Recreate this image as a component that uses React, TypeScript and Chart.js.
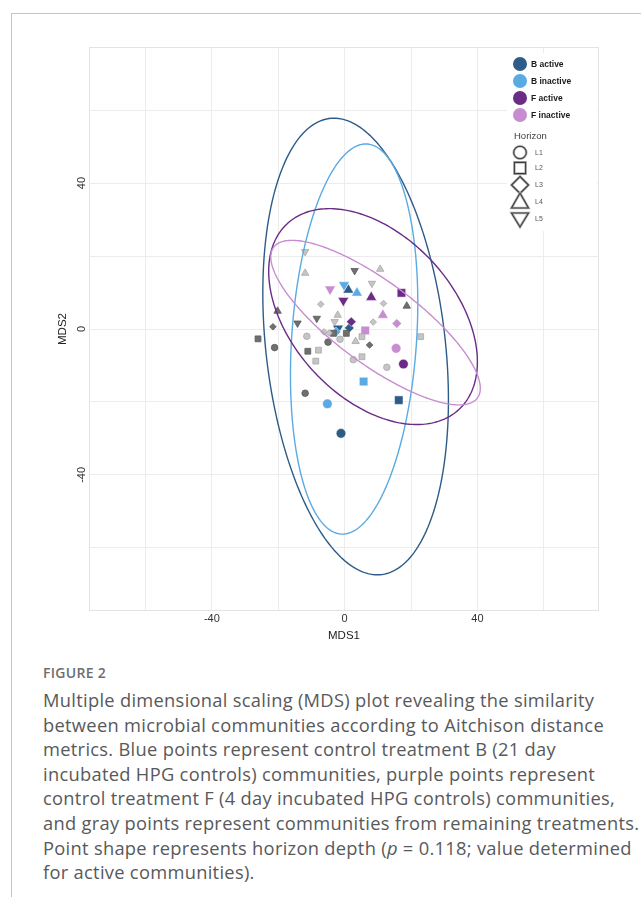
import React, { useEffect, useRef } from "react";
import { Chart, registerables } from "chart.js";
Chart.register(...registerables);

// ---------- data ----------
const groupNames = ["B active", "B inactive", "F active", "F inactive"];
const groupColors = ["#2d5c88", "#5aaae4", "#6b2b87", "#c78dd0"];
const horizonLabels = ["L1", "L2", "L3", "L4", "L5"];
const xTickValues = [-40, 0, 40];
const yTickValues = [-40, 0, 40];
const gridValues = [-60, -40, -20, 0, 20, 40, 60];

const bActiveX = [1.1, -2.0, 1.4, 16.3, -1.1];
const bActiveY = [10.7, 0.2, 0.3, -19.5, -28.6];
const bActiveH = ["L4", "L5", "L3", "L2", "L1"];

const bInactiveX = [-0.2, 3.7, -5.2, 5.7, -2.6];
const bInactiveY = [12.1, 9.9, -20.5, -14.4, -0.8];
const bInactiveH = ["L5", "L4", "L1", "L2", "L3"];

const fActiveX = [-0.4, 8.0, 17.1, 2.0, 17.7];
const fActiveY = [7.8, 8.7, 9.9, 2.0, -9.6];
const fActiveH = ["L5", "L4", "L2", "L3", "L1"];

const fInactiveX = [-4.4, 11.5, 15.7, 6.2, 15.5];
const fInactiveY = [10.9, 3.8, 1.5, -0.4, -5.3];
const fInactiveH = ["L5", "L4", "L3", "L2", "L1"];

const otherActiveX = [3.0, 18.7, -20.2, -8.4, -14.2, -21.6, 7.5, -26.1, -11.1, -3.4, 0.5, -5.0, -21.1, -11.9];
const otherActiveY = [16.0, 6.3, 4.9, 2.9, 1.6, 0.6, -4.4, -2.7, -6.1, -1.2, -1.2, -3.6, -5.1, -17.6];
const otherActiveH = ["L5", "L4", "L4", "L5", "L5", "L3", "L3", "L2", "L2", "L2", "L2", "L1", "L1", "L1"];

const otherInactiveX = [-11.9, -11.9, 10.7, 8.2, -7.2, 11.7, -2.1, -3.0, 8.6, -6.2, -4.7, -11.4, -1.4, 3.3, 5.2, 22.9, -7.9, -8.7, 2.6, 5.2, 12.7];
const otherInactiveY = [21.2, 15.3, 16.4, 12.5, 6.8, 7.0, 3.8, 2.0, 1.9, -0.8, -1.1, -2.0, -2.8, -3.4, -2.1, -2.1, -5.8, -8.8, -8.4, -7.6, -10.5];
const otherInactiveH = ["L5", "L4", "L4", "L5", "L3", "L3", "L4", "L5", "L3", "L3", "L3", "L1", "L1", "L4", "L2", "L2", "L2", "L2", "L1", "L2", "L1"];

// confidence ellipses (data units): centre x, centre y, semi-axes, angle (deg)
const ellipseCx = [3.3, 2.85, 8.55, 9.3];
const ellipseCy = [-4.8, -2.75, 3.4, 1.75];
const ellipseA = [63, 53.6, 36.4, 37.0];
const ellipseB = [27, 18.8, 23.2, 11.6];
const ellipseAngle = [97.3, 85.7, -40.9, -33.4];

const captionLines = [
  "Multiple dimensional scaling (MDS) plot revealing the similarity",
  "between microbial communities according to Aitchison distance",
  "metrics. Blue points represent control treatment B (21 day",
  "incubated HPG controls) communities, purple points represent",
  "control treatment F (4 day incubated HPG controls) communities,",
  "and gray points represent communities from remaining treatments.",
];

// ---------- helpers ----------
const styleOf = (h: string) =>
  h === "L1" ? "circle" : h === "L2" ? "rect" : h === "L3" ? "rectRot" : "triangle";
const factorOf = (h: string) =>
  h === "L1" ? 1 : h === "L2" ? 1.25 : h === "L3" ? 1.0 : 1.3;

function pts(xs: number[], ys: number[], hs: string[]) {
  return xs.map((x, i) => ({ x, y: ys[i], h: hs[i] }));
}

function makeDataset(label: string, data: any[], fill: string, border: string, base: number) {
  return {
    label,
    data,
    showLine: false,
    pointBackgroundColor: fill,
    pointBorderColor: border,
    pointBorderWidth: 0.8,
    pointStyle: (c: any) => styleOf(c.raw ? c.raw.h : "L1"),
    pointRotation: (c: any) => (c.raw && c.raw.h === "L5" ? 180 : 0),
    pointRadius: (c: any) => base * factorOf(c.raw ? c.raw.h : "L1"),
    pointHoverRadius: (c: any) => base * factorOf(c.raw ? c.raw.h : "L1"),
  };
}

const FONT = "'Liberation Sans', Arial, sans-serif";

function drawShape(ctx: CanvasRenderingContext2D, h: string, x: number, y: number) {
  ctx.beginPath();
  if (h === "L1") {
    ctx.arc(x, y, 6.3, 0, Math.PI * 2);
  } else if (h === "L2") {
    ctx.rect(x - 5.6, y - 5.6, 11.2, 11.2);
  } else if (h === "L3") {
    ctx.moveTo(x, y - 8.5);
    ctx.lineTo(x + 8.5, y);
    ctx.lineTo(x, y + 8.5);
    ctx.lineTo(x - 8.5, y);
    ctx.closePath();
  } else if (h === "L4") {
    ctx.moveTo(x, y - 9);
    ctx.lineTo(x + 8.5, y + 6);
    ctx.lineTo(x - 8.5, y + 6);
    ctx.closePath();
  } else {
    ctx.moveTo(x, y + 8);
    ctx.lineTo(x + 8.5, y - 6);
    ctx.lineTo(x - 8.5, y - 6);
    ctx.closePath();
  }
  ctx.strokeStyle = "#b5b5b5";
  ctx.lineWidth = 2.6;
  ctx.stroke();
  ctx.strokeStyle = "#3c3c3c";
  ctx.lineWidth = 1.1;
  ctx.stroke();
}

const overlayPlugin = {
  id: "overlay",
  beforeDatasetsDraw(chart: any) {
    const ctx = chart.ctx as CanvasRenderingContext2D;
    ctx.save();
    ctx.fillStyle = "#ffffff";
    ctx.fillRect(507, 53, 90, 178);
    ctx.restore();
  },
  afterDatasetsDraw(chart: any) {
    const ctx = chart.ctx as CanvasRenderingContext2D;
    const xs = chart.scales.x;
    const ys = chart.scales.y;
    ctx.save();
    ctx.beginPath();
    ctx.rect(chart.chartArea.left, chart.chartArea.top, chart.chartArea.right - chart.chartArea.left, chart.chartArea.bottom - chart.chartArea.top);
    ctx.clip();
    for (let k = 0; k < ellipseCx.length; k++) {
      const th = (ellipseAngle[k] * Math.PI) / 180;
      ctx.beginPath();
      for (let i = 0; i <= 240; i++) {
        const t = (i / 240) * Math.PI * 2;
        const dx = ellipseA[k] * Math.cos(t);
        const dy = ellipseB[k] * Math.sin(t);
        const vx = ellipseCx[k] + dx * Math.cos(th) - dy * Math.sin(th);
        const vy = ellipseCy[k] + dx * Math.sin(th) + dy * Math.cos(th);
        const px = xs.getPixelForValue(vx);
        const py = ys.getPixelForValue(vy);
        if (i === 0) ctx.moveTo(px, py);
        else ctx.lineTo(px, py);
      }
      ctx.closePath();
      ctx.strokeStyle = groupColors[k];
      ctx.lineWidth = 1.4;
      ctx.stroke();
    }
    ctx.restore();
  },
  afterDraw(chart: any) {
    const ctx = chart.ctx as CanvasRenderingContext2D;
    const ca = chart.chartArea;
    const xs = chart.scales.x;
    const ys = chart.scales.y;
    ctx.save();
    // panel border
    ctx.strokeStyle = "#e3e3e3";
    ctx.lineWidth = 1;
    ctx.strokeRect(Math.round(ca.left) + 0.5, Math.round(ca.top) + 0.5, Math.round(ca.right - ca.left) - 1, Math.round(ca.bottom - ca.top) - 1);

    // tick labels
    ctx.fillStyle = "#333333";
    ctx.font = `11px ${FONT}`;
    ctx.textAlign = "center";
    ctx.textBaseline = "middle";
    xTickValues.forEach((v) => ctx.fillText(String(v), xs.getPixelForValue(v), ca.bottom + 8));
    yTickValues.forEach((v) => {
      ctx.save();
      ctx.translate(ca.left - 7, ys.getPixelForValue(v));
      ctx.rotate(-Math.PI / 2);
      ctx.fillText(String(v), 0, 0);
      ctx.restore();
    });
    // axis titles
    ctx.fillStyle = "#222222";
    ctx.font = `11.5px ${FONT}`;
    ctx.fillText("MDS1", (ca.left + ca.right) / 2, ca.bottom + 25);
    ctx.save();
    ctx.translate(ca.left - 26, (ca.top + ca.bottom) / 2);
    ctx.rotate(-Math.PI / 2);
    ctx.fillText("MDS2", 0, 0);
    ctx.restore();

    // legend
    const lx = 520;
    ctx.textAlign = "left";
    groupNames.forEach((name, i) => {
      const y = 64 + i * 17;
      ctx.beginPath();
      ctx.arc(lx, y, 7, 0, Math.PI * 2);
      ctx.fillStyle = groupColors[i];
      ctx.fill();
      ctx.fillStyle = "#1a1a1a";
      ctx.font = `bold 8.5px ${FONT}`;
      ctx.fillText(name, 531, y + 0.5);
    });
    ctx.fillStyle = "#404040";
    ctx.font = `9.5px ${FONT}`;
    ctx.fillText("Horizon", 514, 136.5);
    const hy = [152.5, 168, 185, 202, 219];
    horizonLabels.forEach((h, i) => {
      drawShape(ctx, h, 520, hy[i]);
      ctx.fillStyle = "#555555";
      ctx.font = `7px ${FONT}`;
      ctx.fillText(h, 535, hy[i] + 0.5);
    });
    ctx.restore();
  },
};

export default function App() {
  const ref = useRef<HTMLCanvasElement | null>(null);

  useEffect(() => {
    if (!ref.current) return;
    const gridOpts = { color: "#ececec", lineWidth: 1, drawTicks: false };
    const chart = new Chart(ref.current, {
      type: "scatter",
      data: {
        datasets: [
          makeDataset("other inactive", pts(otherInactiveX, otherInactiveY, otherInactiveH), "#c5c5c5", "#a8a8a8", 3.3),
          makeDataset("other active", pts(otherActiveX, otherActiveY, otherActiveH), "#6f6f6f", "#5a5a5a", 3.3),
          makeDataset("F inactive", pts(fInactiveX, fInactiveY, fInactiveH), groupColors[3], "rgba(255,255,255,0.6)", 4.8),
          makeDataset("F active", pts(fActiveX, fActiveY, fActiveH), groupColors[2], "rgba(255,255,255,0.6)", 4.8),
          makeDataset("B inactive", pts(bInactiveX, bInactiveY, bInactiveH), groupColors[1], "rgba(255,255,255,0.6)", 4.8),
          makeDataset("B active", pts(bActiveX, bActiveY, bActiveH), groupColors[0], "rgba(255,255,255,0.6)", 4.8),
        ] as any,
      },
      options: {
        animation: false,
        responsive: false,
        maintainAspectRatio: false,
        devicePixelRatio: 1,
        layout: { padding: { left: 89, top: 47, right: 42, bottom: 49 } },
        plugins: { legend: { display: false }, tooltip: { enabled: false } },
        scales: {
          x: {
            type: "linear",
            min: -77,
            max: 76.6,
            afterBuildTicks: (s: any) => { s.ticks = gridValues.map((v) => ({ value: v })); },
            ticks: { display: false },
            grid: gridOpts,
            border: { display: false },
            title: { display: false },
          },
          y: {
            type: "linear",
            min: -77.3,
            max: 77.3,
            afterBuildTicks: (s: any) => { s.ticks = gridValues.map((v) => ({ value: v })); },
            ticks: { display: false },
            grid: gridOpts,
            border: { display: false },
            title: { display: false },
          },
        },
      } as any,
      plugins: [overlayPlugin as any],
    });
    return () => chart.destroy();
  }, []);

  const captionFont = "'Open Sans', 'Noto Sans', sans-serif";
  return (
    <div style={{ position: "absolute", left: 0, top: 0, width: 641, height: 897, background: "#fff", overflow: "hidden" }}>
      <div style={{ position: "absolute", left: 11, top: 13, width: 640, height: 900, borderLeft: "1.5px solid #c4c4c4", borderTop: "1.5px solid #c4c4c4" }} />
      <canvas ref={ref} width={641} height={660} style={{ position: "absolute", left: 0, top: 0, width: 641, height: 660 }} />
      <div style={{ position: "absolute", left: 43, top: 662, fontFamily: captionFont, fontSize: 14, fontWeight: 600, color: "#6d6e71", lineHeight: "22px", letterSpacing: 0.3, whiteSpace: "nowrap" }}>
        FIGURE 2
      </div>
      <div style={{ position: "absolute", left: 43, top: 688, fontFamily: captionFont, fontSize: 18.3, color: "#58595b", lineHeight: "24.6px", letterSpacing: 0.3, whiteSpace: "nowrap" }}>
        {captionLines.map((l, i) => (
          <div key={i}>{l}</div>
        ))}
        <div>
          Point shape represents horizon depth (<i>p</i> = 0.118; value determined
        </div>
        <div>for active communities).</div>
      </div>
    </div>
  );
}
